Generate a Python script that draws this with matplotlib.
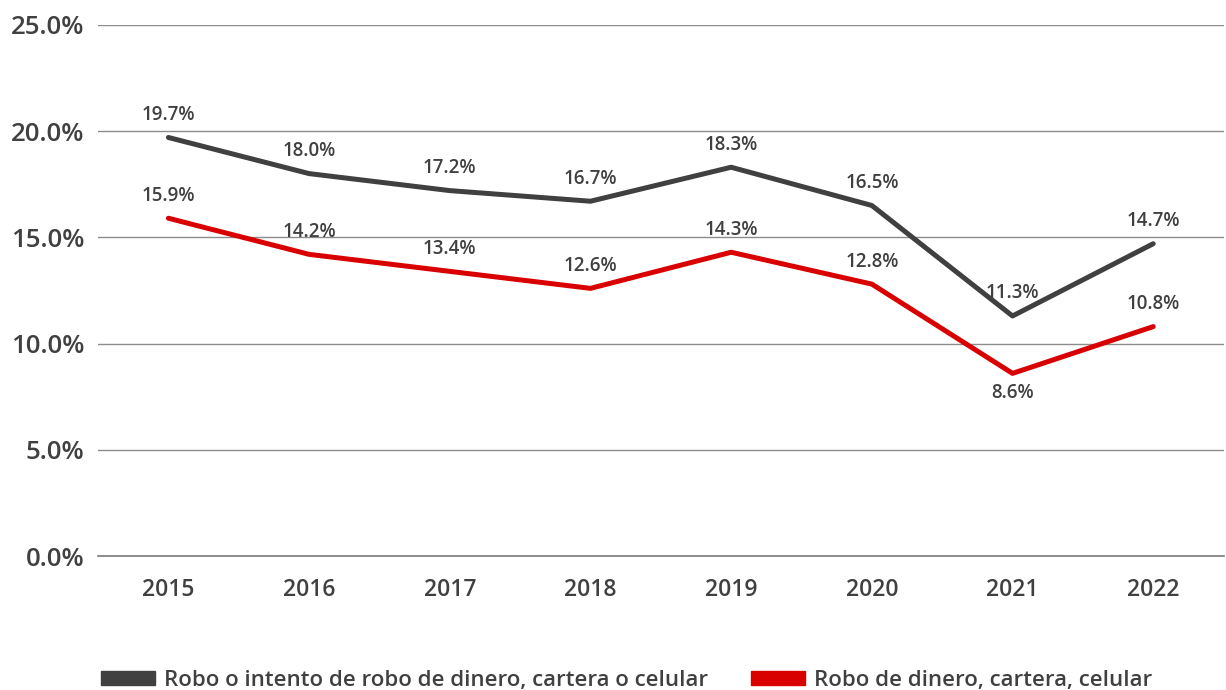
import matplotlib
matplotlib.use('Agg')
import matplotlib.pyplot as plt
import matplotlib.patches as mpatches

plt.rcParams['font.family'] = ['Open Sans', 'DejaVu Sans']
plt.rcParams['font.weight'] = 'semibold'

years = ['2015', '2016', '2017', '2018', '2019', '2020', '2021', '2022']
robo_intento = [19.7, 18.0, 17.2, 16.7, 18.3, 16.5, 11.3, 14.7]
robo = [15.9, 14.2, 13.4, 12.6, 14.3, 12.8, 8.6, 10.8]
name_intento = 'Robo o intento de robo de dinero, cartera o celular'
name_robo = 'Robo de dinero, cartera, celular'

txt = '#404040'
c_dark = '#404040'
c_red = '#d90000'

fig = plt.figure(figsize=(12.26, 6.9), dpi=100)
ax = fig.add_axes([0.08, 0.194, 0.918, 0.77])

x = list(range(len(years)))
ax.plot(x, robo_intento, color=c_dark, lw=3.6, solid_capstyle='round', zorder=3)
ax.plot(x, robo, color=c_red, lw=3.6, solid_capstyle='round', zorder=3)

for i, v in enumerate(robo_intento):
    ax.annotate(f'{v:.1f}%', (i, v), xytext=(0, 9), textcoords='offset points',
                ha='center', va='bottom', fontsize=13.5, color=txt)
for i, v in enumerate(robo):
    if i == 6:
        ax.annotate(f'{v:.1f}%', (i, v), xytext=(0, -7), textcoords='offset points',
                    ha='center', va='top', fontsize=13.5, color=txt)
    else:
        ax.annotate(f'{v:.1f}%', (i, v), xytext=(0, 9), textcoords='offset points',
                    ha='center', va='bottom', fontsize=13.5, color=txt)

ax.set_xlim(-0.5, len(years) - 0.5)
ax.set_ylim(0, 25)
ax.set_yticks([0, 5, 10, 15, 20, 25])
ax.set_yticklabels([f'{t:.1f}%' for t in [0, 5, 10, 15, 20, 25]])
ax.set_xticks(x)
ax.set_xticklabels(years)
ax.grid(axis='y', color='#8c8c8c', lw=1)
ax.axhline(0, color='#7a7a7a', lw=1.2, clip_on=False, zorder=1)
ax.set_axisbelow(True)
for s in ax.spines.values():
    s.set_visible(False)
ax.tick_params(axis='y', length=0, labelsize=18.5, labelcolor=txt, pad=10)
ax.tick_params(axis='x', length=0, labelsize=16.5, labelcolor=txt, pad=16)

h1 = mpatches.Patch(color=c_dark, label=name_intento)
h2 = mpatches.Patch(color=c_red, label=name_robo)
leg = fig.legend(handles=[h1, h2], loc='lower left', bbox_to_anchor=(0.066, -0.03),
                 ncol=2, frameon=False, fontsize=16, handlelength=2.45, handleheight=0.55,
                 columnspacing=1.9, handletextpad=0.4)
for t in leg.get_texts():
    t.set_color(txt)

fig.savefig('out.png', dpi=100)
